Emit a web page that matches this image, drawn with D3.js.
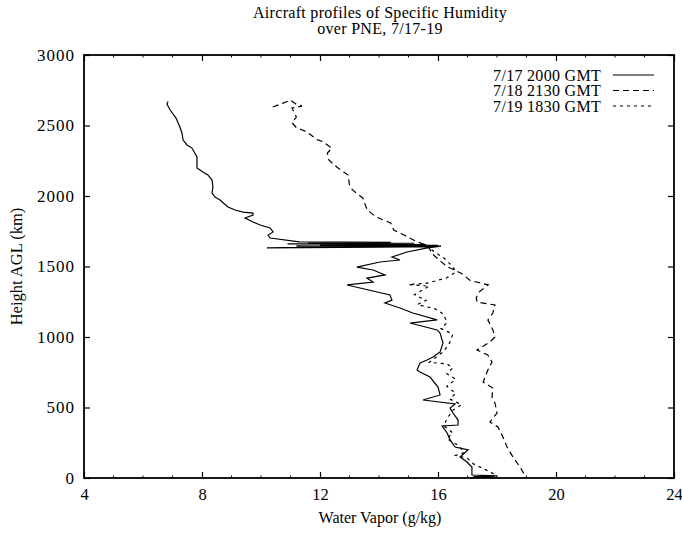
<!doctype html>
<html lang="en">
<head>
  <meta charset="UTF-8">
  <title>Aircraft profiles of Specific Humidity</title>
  <script src="https://d3js.org/d3.v7.min.js" charset="utf-8"></script>
  <style>
    body { margin: 0; background: #fff; }
    text { font-family: "Liberation Serif", "Times New Roman", serif; fill: #000; }
  </style>
</head>
<body>
  <script>

    // [water vapor g/kg, height]
    var jul17 = [
      [6.85, 2670], [6.81, 2652], [6.92, 2610], [7.12, 2553], [7.25, 2489], [7.32, 2447],
      [7.36, 2397], [7.49, 2362], [7.66, 2340], [7.83, 2277], [7.83, 2199], [8.03, 2170],
      [8.20, 2149], [8.34, 2113], [8.37, 2064], [8.34, 2021], [8.44, 1993], [8.61, 1972],
      [8.88, 1922], [9.12, 1901], [9.39, 1886], [9.73, 1879], [9.73, 1865], [9.46, 1844],
      [9.73, 1816], [9.97, 1794], [10.31, 1773], [10.41, 1745], [10.24, 1723], [10.31, 1702],
      [11.3, 1674], [14.4, 1672], [11.6, 1668], [15.2, 1665], [10.9, 1660], [15.6, 1656],
      [12.0, 1652], [16.0, 1650], [10.2, 1632], [14.0, 1638], [15.8, 1640], [11.2, 1645],
      [15.7, 1642], [16.1, 1645], [15.6, 1630],
      [14.95, 1603], [14.44, 1567], [14.71, 1546], [14.03, 1532], [13.25, 1496], [13.80, 1475],
      [14.20, 1440], [13.59, 1418], [13.80, 1390], [12.92, 1369], [14.37, 1298], [14.44, 1262],
      [14.20, 1241], [14.71, 1206], [15.15, 1170], [15.97, 1121], [15.05, 1099], [15.97, 1050],
      [16.07, 1028], [16.17, 957], [16.07, 894], [15.83, 858], [15.63, 837], [15.39, 816],
      [15.29, 766], [15.39, 752], [15.73, 716], [16.0, 645], [16.07, 589], [15.49, 553],
      [16.58, 525], [16.41, 496], [16.51, 461], [16.68, 411], [16.68, 376], [16.14, 369],
      [16.31, 319], [16.41, 270], [16.58, 220], [17.02, 199], [16.75, 149], [16.98, 113],
      [17.15, 78], [17.15, 21], [18.0, 15], [17.2, 10], [17.9, 6], [17.1, 2]
    ];

    var jul18 = [
      [10.4, 2631], [10.75, 2659], [11.0, 2680], [11.2, 2650], [11.39, 2638], [11.05, 2624],
      [11.2, 2560], [11.05, 2520], [11.2, 2485], [11.55, 2455], [11.9, 2400], [12.1, 2385],
      [12.4, 2340], [12.25, 2305], [12.3, 2255], [12.6, 2200], [12.95, 2149], [13.0, 2078],
      [13.1, 2043], [13.45, 1986], [13.6, 1901], [13.9, 1851], [14.4, 1809], [14.5, 1759],
      [14.85, 1723], [15.3, 1674], [15.63, 1652], [15.85, 1581], [16.3, 1500], [16.8, 1450],
      [17.1, 1400], [17.7, 1370], [17.4, 1320], [17.3, 1280], [17.32, 1248], [17.93, 1227],
      [17.86, 1170], [17.69, 1121], [17.86, 1050], [17.93, 1000], [17.76, 965], [17.32, 908],
      [17.69, 872], [17.83, 823], [17.69, 766], [17.53, 681], [17.86, 638], [17.83, 574],
      [17.93, 532], [18.0, 461], [17.76, 397], [18.03, 362], [18.2, 291], [18.34, 220],
      [18.54, 149], [18.78, 78], [19.0, 0]
    ];

    var jul19 = [
      [15.6, 1650], [15.9, 1600], [16.2, 1560], [16.5, 1500], [16.6, 1460], [16.3, 1420],
      [15.6, 1380], [15.0, 1372], [15.7, 1360], [15.2, 1300], [15.6, 1260], [15.3, 1230],
      [15.9, 1200], [16.2, 1160], [16.3, 1100], [16.1, 1060], [16.5, 1020], [16.4, 960],
      [16.2, 900], [15.7, 820], [16.3, 810], [16.5, 780], [16.3, 740], [16.6, 700],
      [16.3, 650], [16.6, 600], [16.4, 560], [16.8, 520], [16.5, 480], [16.3, 420],
      [16.2, 370], [16.5, 320], [16.3, 280], [16.7, 230], [16.9, 180], [16.6, 160],
      [17.0, 140], [17.2, 100], [17.5, 70], [17.8, 40], [18.0, 15]
    ];

    var seriesNames = ["7/17 2000 GMT", "7/18 2130 GMT", "7/19 1830 GMT"];
    var seriesData = [jul17, jul18, jul19];
    var dashes = [null, "6,4", "3,4"];

    var xTicks = [4, 8, 12, 16, 20, 24];
    var yTicks = [0, 500, 1000, 1500, 2000, 2500, 3000];

    var width = 682, height = 534
      , pLeft = 84, pRight = 674, pTop = 55, pBottom = 478
      ;

    var svg = d3.select("body").append("svg")
      .attr("width", width)
      .attr("height", height);

    var x = d3.scaleLinear().domain([4, 24]).range([pLeft, pRight]);
    var y = d3.scaleLinear().domain([0, 3000]).range([pBottom, pTop]);

    // minor x ticks every 1 unit
    var minor = d3.range(5, 24).filter(function(d) { return d % 4 !== 0; });
    svg.append("g").selectAll("line").data(minor).enter().append("line")
      .attr("x1", function(d) { return x(d); }).attr("x2", function(d) { return x(d); })
      .attr("y1", pBottom).attr("y2", pBottom - 2.5)
      .attr("stroke", "#000");
    svg.append("g").selectAll("line").data(minor).enter().append("line")
      .attr("x1", function(d) { return x(d); }).attr("x2", function(d) { return x(d); })
      .attr("y1", pTop).attr("y2", pTop + 2.5)
      .attr("stroke", "#000");

    var xAxis = svg.append("g")
      .attr("transform", "translate(0," + pBottom + ")")
      .call(d3.axisBottom(x).tickValues(xTicks).tickSizeInner(-6).tickSizeOuter(0).tickPadding(10));
    svg.append("g")
      .attr("transform", "translate(0," + pTop + ")")
      .call(d3.axisTop(x).tickValues(xTicks).tickSizeInner(-6).tickSizeOuter(0).tickFormat(""));
    var yAxis = svg.append("g")
      .attr("transform", "translate(" + pLeft + ",0)")
      .call(d3.axisLeft(y).tickValues(yTicks).tickFormat(d3.format("d"))
        .tickSizeInner(-6).tickSizeOuter(0).tickPadding(9));
    svg.append("g")
      .attr("transform", "translate(" + pRight + ",0)")
      .call(d3.axisRight(y).tickValues(yTicks).tickSizeInner(-6).tickSizeOuter(0).tickFormat(""));

    svg.selectAll(".domain").remove();
    svg.selectAll(".tick line").attr("stroke-width", 1.2);
    svg.selectAll(".tick text")
      .style("font-family", "Liberation Serif")
      .attr("fill", "#000");
    yAxis.selectAll(".tick text")
      .style("font-size", "17px")
      .style("letter-spacing", "1px");
    xAxis.selectAll(".tick text")
      .style("font-size", "16.5px");

    svg.append("rect")
      .attr("x", pLeft).attr("y", pTop)
      .attr("width", pRight - pLeft).attr("height", pBottom - pTop)
      .attr("fill", "none").attr("stroke", "#000").attr("stroke-width", 1.8);

    var line = d3.line()
      .x(function(d) { return x(d[0]); })
      .y(function(d) { return y(d[1]); });

    svg.append("g").selectAll("path").data(seriesData).enter().append("path")
      .attr("d", line)
      .attr("fill", "none")
      .attr("stroke", "#000")
      .attr("stroke-width", 1.2)
      .attr("stroke-dasharray", function(d, i) { return dashes[i]; });

    // legend
    var legend = svg.append("g").selectAll("g").data(seriesNames).enter().append("g")
      .attr("transform", function(d, i) { return "translate(0," + (75 + i * 15.5) + ")"; });
    legend.append("text")
      .attr("x", 601).attr("dy", "0.35em")
      .attr("text-anchor", "end")
      .style("font-size", "16px")
      .style("letter-spacing", "0.3px")
      .text(function(d) { return d; });
    legend.append("line")
      .attr("x1", 613).attr("x2", 654)
      .attr("stroke", "#000").attr("stroke-width", 1.2)
      .attr("stroke-dasharray", function(d, i) { return dashes[i]; });

    // titles
    svg.append("text").attr("x", 380).attr("y", 18).attr("text-anchor", "middle")
      .style("font-size", "16px").style("letter-spacing", "0.3px")
      .text("Aircraft profiles of Specific Humidity");
    svg.append("text").attr("x", 380).attr("y", 34).attr("text-anchor", "middle")
      .style("font-size", "16px").style("letter-spacing", "0.3px")
      .text("over PNE, 7/17-19");

    svg.append("text").attr("x", 380).attr("y", 523).attr("text-anchor", "middle")
      .style("font-size", "16px").text("Water Vapor (g/kg)");
    svg.append("text")
      .attr("transform", "translate(22," + ((pTop + pBottom) / 2) + ") rotate(-90)")
      .attr("text-anchor", "middle")
      .style("font-size", "16.5px").text("Height AGL (km)");

  </script>
</body>
</html>
